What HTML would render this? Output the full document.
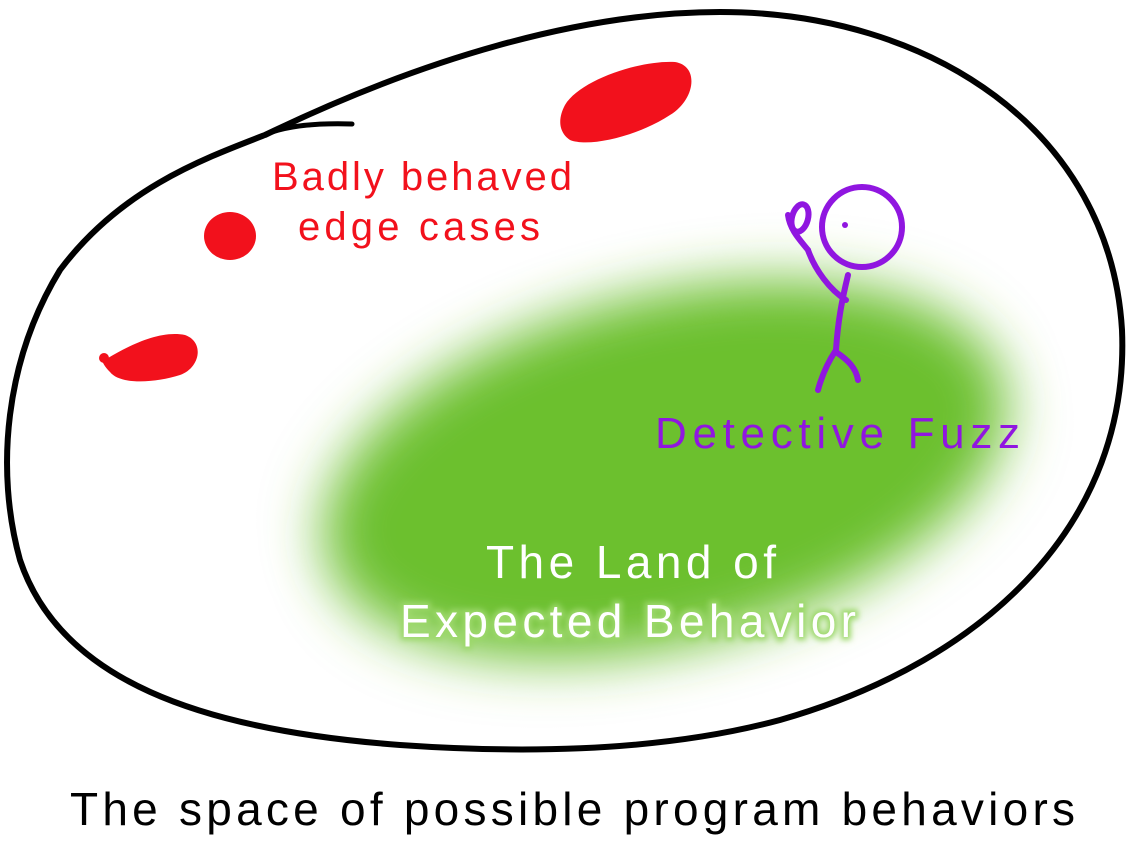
<!DOCTYPE html>
<html><head><meta charset="utf-8"><style>
html,body{margin:0;padding:0;background:#fff;width:1128px;height:855px;overflow:hidden}
</style></head><body>
<svg width="1128" height="855" viewBox="0 0 1128 855" xmlns="http://www.w3.org/2000/svg">
<defs>
<filter id="b" x="-30%" y="-30%" width="160%" height="160%"><feGaussianBlur stdDeviation="28"/></filter>
<filter id="g" x="-20%" y="-50%" width="140%" height="200%"><feGaussianBlur stdDeviation="3"/></filter>
</defs>
<ellipse cx="665" cy="470" rx="350" ry="175" transform="rotate(-14 665 470)" fill="#6cc02e" filter="url(#b)"/>
<path d="M265,135 C420,60 580,12 720,12 C930,12 1110,130 1122,330 C1130,520 990,660 780,720 C650,755 500,752 400,745 C200,730 60,680 20,560 C-5,470 5,360 60,270 C120,190 200,160 265,135Z" fill="none" stroke="#000" stroke-width="6"/>
<path d="M262,136 C285,125 320,123 352,124" fill="none" stroke="#000" stroke-width="5" stroke-linecap="round"/>
<path d="M565,105 C580,80 640,60 675,62 C700,66 695,100 670,115 C640,135 590,148 570,140 C558,132 558,118 565,105Z" fill="#f2111c"/>
<ellipse cx="230" cy="236" rx="26" ry="24" fill="#f2111c"/>
<path d="M108,358 C130,345 160,330 185,335 C205,342 200,368 180,375 C155,383 120,385 110,372 C100,362 100,355 108,358Z" fill="#f2111c"/>
<circle cx="104" cy="358" r="5" fill="#f2111c"/>
<text x="272" y="190" font-family="Liberation Sans,sans-serif" font-size="40" fill="#f2111c" textLength="300">Badly behaved</text>
<text x="298" y="240" font-family="Liberation Sans,sans-serif" font-size="40" fill="#f2111c" textLength="242">edge cases</text>
<g fill="none" stroke="#9016e0" stroke-width="6" stroke-linecap="round">
<circle cx="862" cy="227" r="40"/>
<path d="M848,275 C842,300 838,320 836,350"/>
<path d="M836,350 C828,362 822,375 818,390"/>
<path d="M836,352 C848,360 856,368 858,380"/>
<path d="M846,300 C830,290 815,270 808,250"/>
<path d="M808,250 C800,240 790,230 788,215"/>
<ellipse cx="800" cy="218" rx="8" ry="14" transform="rotate(15 800 218)"/>
</g>
<circle cx="845" cy="225" r="3" fill="#9016e0"/>
<text x="655" y="448" font-family="Liberation Sans,sans-serif" font-size="44" fill="#9016e0" textLength="365">Detective Fuzz</text>
<text x="400" y="637" font-family="Liberation Sans,sans-serif" font-size="46" fill="#9cd86a" filter="url(#g)" textLength="456" stroke="#9cd86a" stroke-width="6">Expected Behavior</text>
<text x="486" y="578" font-family="Liberation Sans,sans-serif" font-size="46" fill="#fff" textLength="290">The Land of</text>
<text x="400" y="637" font-family="Liberation Sans,sans-serif" font-size="46" fill="#fff" textLength="456">Expected Behavior</text>
<text x="70" y="825" font-family="Liberation Sans,sans-serif" font-size="46" fill="#000" textLength="1005">The space of possible program behaviors</text>
</svg>
</body></html>
